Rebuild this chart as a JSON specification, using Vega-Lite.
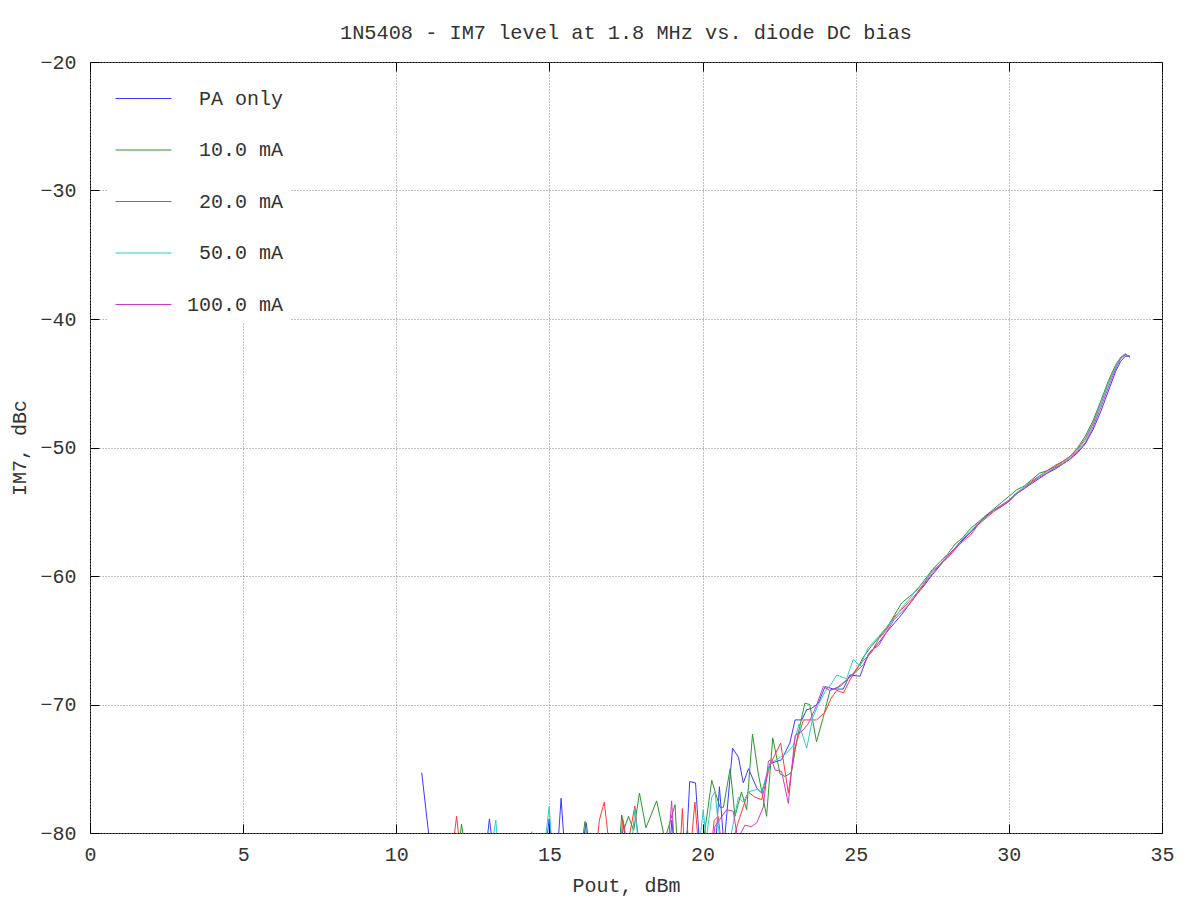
{
  "$schema": "https://vega.github.io/schema/vega-lite/v6.json",
  "width": 1072,
  "height": 771,
  "autosize": {"type": "none"},
  "padding": {"left": 90, "top": 62, "right": 38, "bottom": 67},
  "background": "white",
  "title": {"text": "1N5408 - IM7 level at 1.8 MHz vs. diode DC bias", "font": "Liberation Mono", "fontSize": 20.3, "fontWeight": "normal", "color": "#333333", "anchor": "middle", "frame": "group", "offset": 9},
  "config": {
    "view": {"stroke": "black", "strokeWidth": 1},
    "axis": {"labelFont": "Liberation Mono", "labelFontSize": 20, "labelColor": "#333333", "labelFlush": false, "titleFont": "Liberation Mono", "titleFontSize": 20, "titleFontWeight": "normal", "titleColor": "#333333", "gridColor": "#808080", "gridDash": [1, 2], "gridWidth": 1, "gridOpacity": 1, "domain": false, "tickColor": "black", "tickSize": -9, "tickWidth": 1}
  },
  "data": {"values": [
    {"series":"PA only","pout":10.83,"im7":-75.3},{"series":"PA only","pout":11.15,"im7":-82},{"series":"PA only","pout":12.9,"im7":-82},{"series":"PA only","pout":13.04,"im7":-78.9},{"series":"PA only","pout":13.2,"im7":-82},{"series":"PA only","pout":14.85,"im7":-82},{"series":"PA only","pout":14.99,"im7":-78.9},{"series":"PA only","pout":15.12,"im7":-82},{"series":"PA only","pout":15.25,"im7":-82},{"series":"PA only","pout":15.38,"im7":-77.3},{"series":"PA only","pout":15.52,"im7":-82},{"series":"PA only","pout":16.0,"im7":-82},{"series":"PA only","pout":16.2,"im7":-79.2},{"series":"PA only","pout":16.35,"im7":-82},{"series":"PA only","pout":17.3,"im7":-82},{"series":"PA only","pout":17.42,"im7":-79.3},{"series":"PA only","pout":17.55,"im7":-82},{"series":"PA only","pout":18.9,"im7":-82},{"series":"PA only","pout":19.0,"im7":-79.0},{"series":"PA only","pout":19.1,"im7":-82},{"series":"PA only","pout":19.45,"im7":-82},{"series":"PA only","pout":19.58,"im7":-76.0},{"series":"PA only","pout":19.77,"im7":-76.1},{"series":"PA only","pout":19.93,"im7":-82},{"series":"PA only","pout":20.4,"im7":-82},{"series":"PA only","pout":20.55,"im7":-76.4},{"series":"PA only","pout":20.7,"im7":-81},{"series":"PA only","pout":20.98,"im7":-73.4},{"series":"PA only","pout":21.17,"im7":-74.1},{"series":"PA only","pout":21.33,"im7":-76.1},{"series":"PA only","pout":21.5,"im7":-75.0},{"series":"PA only","pout":21.77,"im7":-76.5},{"series":"PA only","pout":21.93,"im7":-76.9},{"series":"PA only","pout":22.2,"im7":-74.6},{"series":"PA only","pout":22.58,"im7":-74.3},{"series":"PA only","pout":22.85,"im7":-73.0},{"series":"PA only","pout":23.02,"im7":-71.2},{"series":"PA only","pout":23.24,"im7":-71.2},{"series":"PA only","pout":23.4,"im7":-70.4},{"series":"PA only","pout":23.56,"im7":-70.3},{"series":"PA only","pout":23.78,"im7":-69.9},{"series":"PA only","pout":24.0,"im7":-68.6},{"series":"PA only","pout":24.27,"im7":-68.8},{"series":"PA only","pout":24.59,"im7":-68.8},{"series":"PA only","pout":24.81,"im7":-67.7},{"series":"PA only","pout":25.14,"im7":-67.8},{"series":"PA only","pout":25.41,"im7":-66.1},{"series":"PA only","pout":25.75,"im7":-65.2},{"series":"PA only","pout":26.0,"im7":-64.4},{"series":"PA only","pout":26.25,"im7":-63.7},{"series":"PA only","pout":26.5,"im7":-63.0},{"series":"PA only","pout":26.75,"im7":-62.2},{"series":"PA only","pout":27.0,"im7":-61.4},{"series":"PA only","pout":27.25,"im7":-60.7},{"series":"PA only","pout":27.5,"im7":-59.9},{"series":"PA only","pout":27.75,"im7":-59.2},{"series":"PA only","pout":28.0,"im7":-58.5},{"series":"PA only","pout":28.25,"im7":-57.9},{"series":"PA only","pout":28.5,"im7":-57.2},{"series":"PA only","pout":28.75,"im7":-56.6},{"series":"PA only","pout":29.0,"im7":-56.0},{"series":"PA only","pout":29.25,"im7":-55.3},{"series":"PA only","pout":29.5,"im7":-54.9},{"series":"PA only","pout":29.75,"im7":-54.6},{"series":"PA only","pout":30.0,"im7":-54.2},{"series":"PA only","pout":30.25,"im7":-53.6},{"series":"PA only","pout":30.5,"im7":-53.2},{"series":"PA only","pout":30.75,"im7":-52.8},{"series":"PA only","pout":31.0,"im7":-52.4},{"series":"PA only","pout":31.25,"im7":-52.0},{"series":"PA only","pout":31.5,"im7":-51.7},{"series":"PA only","pout":31.75,"im7":-51.3},{"series":"PA only","pout":32.0,"im7":-50.9},{"series":"PA only","pout":32.25,"im7":-50.4},{"series":"PA only","pout":32.5,"im7":-49.7},{"series":"PA only","pout":32.75,"im7":-48.6},{"series":"PA only","pout":33.0,"im7":-47.2},{"series":"PA only","pout":33.25,"im7":-45.6},{"series":"PA only","pout":33.5,"im7":-44.0},{"series":"PA only","pout":33.65,"im7":-43.3},{"series":"PA only","pout":33.8,"im7":-42.9},{"series":"PA only","pout":33.95,"im7":-42.9},

    {"series":"10.0 mA","pout":12.0,"im7":-82},{"series":"10.0 mA","pout":12.13,"im7":-79.3},{"series":"10.0 mA","pout":12.3,"im7":-82},{"series":"10.0 mA","pout":16.0,"im7":-82},{"series":"10.0 mA","pout":16.16,"im7":-79.1},{"series":"10.0 mA","pout":16.3,"im7":-82},{"series":"10.0 mA","pout":17.25,"im7":-82},{"series":"10.0 mA","pout":17.36,"im7":-78.6},{"series":"10.0 mA","pout":17.45,"im7":-79.6},{"series":"10.0 mA","pout":17.58,"im7":-78.7},{"series":"10.0 mA","pout":17.75,"im7":-79.8},{"series":"10.0 mA","pout":17.94,"im7":-76.9},{"series":"10.0 mA","pout":18.15,"im7":-79.6},{"series":"10.0 mA","pout":18.5,"im7":-77.5},{"series":"10.0 mA","pout":18.77,"im7":-80.5},{"series":"10.0 mA","pout":19.1,"im7":-77.8},{"series":"10.0 mA","pout":19.2,"im7":-82},{"series":"10.0 mA","pout":19.51,"im7":-79.8},{"series":"10.0 mA","pout":19.6,"im7":-82},{"series":"10.0 mA","pout":19.95,"im7":-82},{"series":"10.0 mA","pout":20.3,"im7":-75.9},{"series":"10.0 mA","pout":20.4,"im7":-76.7},{"series":"10.0 mA","pout":20.57,"im7":-78.0},{"series":"10.0 mA","pout":20.68,"im7":-78.0},{"series":"10.0 mA","pout":20.9,"im7":-75.0},{"series":"10.0 mA","pout":21.06,"im7":-78.7},{"series":"10.0 mA","pout":21.27,"im7":-76.8},{"series":"10.0 mA","pout":21.44,"im7":-78.2},{"series":"10.0 mA","pout":21.63,"im7":-72.3},{"series":"10.0 mA","pout":21.82,"im7":-75.4},{"series":"10.0 mA","pout":22.09,"im7":-78.7},{"series":"10.0 mA","pout":22.29,"im7":-72.6},{"series":"10.0 mA","pout":22.53,"im7":-75.4},{"series":"10.0 mA","pout":22.69,"im7":-75.6},{"series":"10.0 mA","pout":22.9,"im7":-75.3},{"series":"10.0 mA","pout":23.1,"im7":-72.5},{"series":"10.0 mA","pout":23.34,"im7":-69.9},{"series":"10.0 mA","pout":23.5,"im7":-70.0},{"series":"10.0 mA","pout":23.72,"im7":-72.9},{"series":"10.0 mA","pout":23.94,"im7":-71.0},{"series":"10.0 mA","pout":24.16,"im7":-68.9},{"series":"10.0 mA","pout":24.49,"im7":-68.6},{"series":"10.0 mA","pout":24.75,"im7":-68.0},{"series":"10.0 mA","pout":25.03,"im7":-67.3},{"series":"10.0 mA","pout":25.25,"im7":-66.3},{"series":"10.0 mA","pout":25.5,"im7":-65.5},{"series":"10.0 mA","pout":25.75,"im7":-64.8},{"series":"10.0 mA","pout":26.0,"im7":-64.1},{"series":"10.0 mA","pout":26.25,"im7":-63.1},{"series":"10.0 mA","pout":26.5,"im7":-62.1},{"series":"10.0 mA","pout":26.75,"im7":-61.6},{"series":"10.0 mA","pout":27.0,"im7":-61.1},{"series":"10.0 mA","pout":27.25,"im7":-60.3},{"series":"10.0 mA","pout":27.5,"im7":-59.5},{"series":"10.0 mA","pout":27.75,"im7":-58.9},{"series":"10.0 mA","pout":28.0,"im7":-58.3},{"series":"10.0 mA","pout":28.25,"im7":-57.5},{"series":"10.0 mA","pout":28.5,"im7":-57.0},{"series":"10.0 mA","pout":28.75,"im7":-56.3},{"series":"10.0 mA","pout":29.0,"im7":-55.8},{"series":"10.0 mA","pout":29.25,"im7":-55.3},{"series":"10.0 mA","pout":29.5,"im7":-54.8},{"series":"10.0 mA","pout":29.75,"im7":-54.3},{"series":"10.0 mA","pout":30.0,"im7":-53.8},{"series":"10.0 mA","pout":30.25,"im7":-53.3},{"series":"10.0 mA","pout":30.5,"im7":-53.0},{"series":"10.0 mA","pout":30.75,"im7":-52.5},{"series":"10.0 mA","pout":31.0,"im7":-52.0},{"series":"10.0 mA","pout":31.25,"im7":-51.8},{"series":"10.0 mA","pout":31.5,"im7":-51.5},{"series":"10.0 mA","pout":31.75,"im7":-51.1},{"series":"10.0 mA","pout":32.0,"im7":-50.7},{"series":"10.0 mA","pout":32.25,"im7":-50.0},{"series":"10.0 mA","pout":32.5,"im7":-49.1},{"series":"10.0 mA","pout":32.75,"im7":-47.9},{"series":"10.0 mA","pout":33.0,"im7":-46.4},{"series":"10.0 mA","pout":33.25,"im7":-44.8},{"series":"10.0 mA","pout":33.5,"im7":-43.5},{"series":"10.0 mA","pout":33.65,"im7":-43.0},{"series":"10.0 mA","pout":33.8,"im7":-42.7},{"series":"10.0 mA","pout":33.95,"im7":-43.0},

    {"series":"20.0 mA","pout":11.8,"im7":-82},{"series":"20.0 mA","pout":11.97,"im7":-78.7},{"series":"20.0 mA","pout":12.12,"im7":-82},{"series":"20.0 mA","pout":16.5,"im7":-82},{"series":"20.0 mA","pout":16.63,"im7":-79.0},{"series":"20.0 mA","pout":16.79,"im7":-77.6},{"series":"20.0 mA","pout":17.0,"im7":-82},{"series":"20.0 mA","pout":17.3,"im7":-82},{"series":"20.0 mA","pout":17.39,"im7":-78.9},{"series":"20.0 mA","pout":17.55,"im7":-81},{"series":"20.0 mA","pout":17.79,"im7":-77.9},{"series":"20.0 mA","pout":17.95,"im7":-81.5},{"series":"20.0 mA","pout":19.25,"im7":-82},{"series":"20.0 mA","pout":19.34,"im7":-78.1},{"series":"20.0 mA","pout":19.42,"im7":-82},{"series":"20.0 mA","pout":19.62,"im7":-81},{"series":"20.0 mA","pout":19.75,"im7":-77.6},{"series":"20.0 mA","pout":19.9,"im7":-82},{"series":"20.0 mA","pout":20.25,"im7":-82},{"series":"20.0 mA","pout":20.38,"im7":-79.0},{"series":"20.0 mA","pout":20.51,"im7":-78.7},{"series":"20.0 mA","pout":20.62,"im7":-81},{"series":"20.0 mA","pout":20.95,"im7":-81},{"series":"20.0 mA","pout":21.17,"im7":-79.1},{"series":"20.0 mA","pout":21.49,"im7":-76.8},{"series":"20.0 mA","pout":21.7,"im7":-77.2},{"series":"20.0 mA","pout":21.93,"im7":-77.4},{"series":"20.0 mA","pout":22.2,"im7":-74.7},{"series":"20.0 mA","pout":22.55,"im7":-73.0},{"series":"20.0 mA","pout":22.8,"im7":-76.9},{"series":"20.0 mA","pout":23.0,"im7":-73.5},{"series":"20.0 mA","pout":23.29,"im7":-71.2},{"series":"20.0 mA","pout":23.5,"im7":-71.2},{"series":"20.0 mA","pout":23.72,"im7":-71.2},{"series":"20.0 mA","pout":24.0,"im7":-70.6},{"series":"20.0 mA","pout":24.2,"im7":-69.5},{"series":"20.0 mA","pout":24.38,"im7":-68.9},{"series":"20.0 mA","pout":24.6,"im7":-69.1},{"series":"20.0 mA","pout":24.81,"im7":-68.1},{"series":"20.0 mA","pout":25.03,"im7":-67.2},{"series":"20.0 mA","pout":25.25,"im7":-66.6},{"series":"20.0 mA","pout":25.5,"im7":-66.0},{"series":"20.0 mA","pout":25.75,"im7":-64.9},{"series":"20.0 mA","pout":26.0,"im7":-64.2},{"series":"20.0 mA","pout":26.25,"im7":-63.2},{"series":"20.0 mA","pout":26.5,"im7":-62.6},{"series":"20.0 mA","pout":26.75,"im7":-62.0},{"series":"20.0 mA","pout":27.0,"im7":-61.3},{"series":"20.0 mA","pout":27.25,"im7":-60.5},{"series":"20.0 mA","pout":27.5,"im7":-59.6},{"series":"20.0 mA","pout":27.75,"im7":-59.1},{"series":"20.0 mA","pout":28.0,"im7":-58.6},{"series":"20.0 mA","pout":28.25,"im7":-57.9},{"series":"20.0 mA","pout":28.5,"im7":-57.3},{"series":"20.0 mA","pout":28.75,"im7":-56.8},{"series":"20.0 mA","pout":29.0,"im7":-56.0},{"series":"20.0 mA","pout":29.25,"im7":-55.5},{"series":"20.0 mA","pout":29.5,"im7":-55.0},{"series":"20.0 mA","pout":29.75,"im7":-54.6},{"series":"20.0 mA","pout":30.0,"im7":-54.2},{"series":"20.0 mA","pout":30.25,"im7":-53.6},{"series":"20.0 mA","pout":30.5,"im7":-53.1},{"series":"20.0 mA","pout":30.75,"im7":-52.6},{"series":"20.0 mA","pout":31.0,"im7":-52.2},{"series":"20.0 mA","pout":31.25,"im7":-51.8},{"series":"20.0 mA","pout":31.5,"im7":-51.4},{"series":"20.0 mA","pout":31.75,"im7":-51.1},{"series":"20.0 mA","pout":32.0,"im7":-50.7},{"series":"20.0 mA","pout":32.25,"im7":-50.1},{"series":"20.0 mA","pout":32.5,"im7":-49.3},{"series":"20.0 mA","pout":32.75,"im7":-48.1},{"series":"20.0 mA","pout":33.0,"im7":-46.6},{"series":"20.0 mA","pout":33.25,"im7":-45.0},{"series":"20.0 mA","pout":33.5,"im7":-43.6},{"series":"20.0 mA","pout":33.65,"im7":-43.0},{"series":"20.0 mA","pout":33.8,"im7":-42.8},{"series":"20.0 mA","pout":33.95,"im7":-42.9},

    {"series":"50.0 mA","pout":13.05,"im7":-82},{"series":"50.0 mA","pout":13.25,"im7":-79.0},{"series":"50.0 mA","pout":13.35,"im7":-82},{"series":"50.0 mA","pout":14.35,"im7":-82},{"series":"50.0 mA","pout":14.42,"im7":-79.9},{"series":"50.0 mA","pout":14.5,"im7":-82},{"series":"50.0 mA","pout":14.8,"im7":-82},{"series":"50.0 mA","pout":14.99,"im7":-77.95},{"series":"50.0 mA","pout":15.12,"im7":-82},{"series":"50.0 mA","pout":17.65,"im7":-82},{"series":"50.0 mA","pout":17.79,"im7":-78.1},{"series":"50.0 mA","pout":17.95,"im7":-82},{"series":"50.0 mA","pout":19.85,"im7":-82},{"series":"50.0 mA","pout":20.02,"im7":-78.2},{"series":"50.0 mA","pout":20.12,"im7":-80.5},{"series":"50.0 mA","pout":20.3,"im7":-77.2},{"series":"50.0 mA","pout":20.41,"im7":-76.8},{"series":"50.0 mA","pout":20.58,"im7":-81},{"series":"50.0 mA","pout":20.9,"im7":-80.5},{"series":"50.0 mA","pout":21.17,"im7":-77.2},{"series":"50.0 mA","pout":21.33,"im7":-77.6},{"series":"50.0 mA","pout":21.5,"im7":-76.8},{"series":"50.0 mA","pout":21.77,"im7":-76.6},{"series":"50.0 mA","pout":21.93,"im7":-76.8},{"series":"50.0 mA","pout":22.2,"im7":-74.6},{"series":"50.0 mA","pout":22.47,"im7":-74.2},{"series":"50.0 mA","pout":22.74,"im7":-73.8},{"series":"50.0 mA","pout":22.96,"im7":-73.2},{"series":"50.0 mA","pout":23.15,"im7":-71.5},{"series":"50.0 mA","pout":23.4,"im7":-73.4},{"series":"50.0 mA","pout":23.6,"im7":-71.0},{"series":"50.0 mA","pout":23.78,"im7":-70.0},{"series":"50.0 mA","pout":24.0,"im7":-69.0},{"series":"50.0 mA","pout":24.2,"im7":-68.4},{"series":"50.0 mA","pout":24.38,"im7":-67.7},{"series":"50.0 mA","pout":24.7,"im7":-68.0},{"series":"50.0 mA","pout":24.92,"im7":-66.5},{"series":"50.0 mA","pout":25.15,"im7":-67.0},{"series":"50.0 mA","pout":25.4,"im7":-65.6},{"series":"50.0 mA","pout":25.75,"im7":-64.7},{"series":"50.0 mA","pout":26.0,"im7":-64.0},{"series":"50.0 mA","pout":26.25,"im7":-63.3},{"series":"50.0 mA","pout":26.5,"im7":-62.5},{"series":"50.0 mA","pout":26.75,"im7":-61.8},{"series":"50.0 mA","pout":27.0,"im7":-61.0},{"series":"50.0 mA","pout":27.25,"im7":-60.4},{"series":"50.0 mA","pout":27.5,"im7":-59.6},{"series":"50.0 mA","pout":27.75,"im7":-59.1},{"series":"50.0 mA","pout":28.0,"im7":-58.5},{"series":"50.0 mA","pout":28.25,"im7":-57.8},{"series":"50.0 mA","pout":28.5,"im7":-57.1},{"series":"50.0 mA","pout":28.75,"im7":-56.5},{"series":"50.0 mA","pout":29.0,"im7":-55.9},{"series":"50.0 mA","pout":29.25,"im7":-55.4},{"series":"50.0 mA","pout":29.5,"im7":-54.9},{"series":"50.0 mA","pout":29.75,"im7":-54.5},{"series":"50.0 mA","pout":30.0,"im7":-54.1},{"series":"50.0 mA","pout":30.25,"im7":-53.5},{"series":"50.0 mA","pout":30.5,"im7":-53.1},{"series":"50.0 mA","pout":30.75,"im7":-52.7},{"series":"50.0 mA","pout":31.0,"im7":-52.2},{"series":"50.0 mA","pout":31.25,"im7":-51.9},{"series":"50.0 mA","pout":31.5,"im7":-51.6},{"series":"50.0 mA","pout":31.75,"im7":-51.2},{"series":"50.0 mA","pout":32.0,"im7":-50.8},{"series":"50.0 mA","pout":32.25,"im7":-50.2},{"series":"50.0 mA","pout":32.5,"im7":-49.4},{"series":"50.0 mA","pout":32.75,"im7":-48.2},{"series":"50.0 mA","pout":33.0,"im7":-46.6},{"series":"50.0 mA","pout":33.25,"im7":-45.0},{"series":"50.0 mA","pout":33.5,"im7":-43.6},{"series":"50.0 mA","pout":33.65,"im7":-43.0},{"series":"50.0 mA","pout":33.8,"im7":-42.8},{"series":"50.0 mA","pout":33.95,"im7":-42.9},

    {"series":"100.0 mA","pout":18.85,"im7":-82},{"series":"100.0 mA","pout":18.99,"im7":-77.5},{"series":"100.0 mA","pout":19.1,"im7":-82},{"series":"100.0 mA","pout":20.3,"im7":-82},{"series":"100.0 mA","pout":20.4,"im7":-79.5},{"series":"100.0 mA","pout":20.78,"im7":-78.2},{"series":"100.0 mA","pout":21.0,"im7":-78.3},{"series":"100.0 mA","pout":21.15,"im7":-80.5},{"series":"100.0 mA","pout":21.38,"im7":-79.4},{"series":"100.0 mA","pout":21.6,"im7":-79.5},{"series":"100.0 mA","pout":21.77,"im7":-79.2},{"series":"100.0 mA","pout":21.98,"im7":-78.0},{"series":"100.0 mA","pout":22.15,"im7":-74.4},{"series":"100.0 mA","pout":22.25,"im7":-74.3},{"series":"100.0 mA","pout":22.37,"im7":-75.1},{"series":"100.0 mA","pout":22.58,"im7":-75.2},{"series":"100.0 mA","pout":22.8,"im7":-77.7},{"series":"100.0 mA","pout":23.02,"im7":-72.4},{"series":"100.0 mA","pout":23.24,"im7":-72.1},{"series":"100.0 mA","pout":23.45,"im7":-71.5},{"series":"100.0 mA","pout":23.7,"im7":-70.2},{"series":"100.0 mA","pout":23.94,"im7":-68.6},{"series":"100.0 mA","pout":24.15,"im7":-68.9},{"series":"100.0 mA","pout":24.38,"im7":-68.7},{"series":"100.0 mA","pout":24.7,"im7":-68.1},{"series":"100.0 mA","pout":25.03,"im7":-67.4},{"series":"100.0 mA","pout":25.25,"im7":-66.9},{"series":"100.0 mA","pout":25.5,"im7":-65.8},{"series":"100.0 mA","pout":25.75,"im7":-65.4},{"series":"100.0 mA","pout":26.0,"im7":-64.4},{"series":"100.0 mA","pout":26.25,"im7":-63.4},{"series":"100.0 mA","pout":26.5,"im7":-62.8},{"series":"100.0 mA","pout":26.75,"im7":-62.2},{"series":"100.0 mA","pout":27.0,"im7":-61.4},{"series":"100.0 mA","pout":27.25,"im7":-60.6},{"series":"100.0 mA","pout":27.5,"im7":-59.8},{"series":"100.0 mA","pout":27.75,"im7":-59.1},{"series":"100.0 mA","pout":28.0,"im7":-58.4},{"series":"100.0 mA","pout":28.25,"im7":-57.8},{"series":"100.0 mA","pout":28.5,"im7":-57.1},{"series":"100.0 mA","pout":28.75,"im7":-56.6},{"series":"100.0 mA","pout":29.0,"im7":-55.9},{"series":"100.0 mA","pout":29.25,"im7":-55.4},{"series":"100.0 mA","pout":29.5,"im7":-54.9},{"series":"100.0 mA","pout":29.75,"im7":-54.5},{"series":"100.0 mA","pout":30.0,"im7":-54.1},{"series":"100.0 mA","pout":30.25,"im7":-53.6},{"series":"100.0 mA","pout":30.5,"im7":-53.2},{"series":"100.0 mA","pout":30.75,"im7":-52.7},{"series":"100.0 mA","pout":31.0,"im7":-52.3},{"series":"100.0 mA","pout":31.25,"im7":-52.0},{"series":"100.0 mA","pout":31.5,"im7":-51.6},{"series":"100.0 mA","pout":31.75,"im7":-51.3},{"series":"100.0 mA","pout":32.0,"im7":-50.9},{"series":"100.0 mA","pout":32.25,"im7":-50.3},{"series":"100.0 mA","pout":32.5,"im7":-49.6},{"series":"100.0 mA","pout":32.75,"im7":-48.4},{"series":"100.0 mA","pout":33.0,"im7":-46.9},{"series":"100.0 mA","pout":33.25,"im7":-45.3},{"series":"100.0 mA","pout":33.5,"im7":-43.8},{"series":"100.0 mA","pout":33.65,"im7":-43.1},{"series":"100.0 mA","pout":33.8,"im7":-42.75},{"series":"100.0 mA","pout":33.95,"im7":-42.9}
  ]},
  "layer": [
    {
      "mark": {"type": "line", "strokeWidth": 1, "clip": true},
      "encoding": {
        "x": {"field": "pout", "type": "quantitative", "scale": {"domain": [0, 35], "nice": false, "zero": false},
              "axis": {"orient": "bottom", "values": [0, 5, 10, 15, 20, 25, 30, 35], "title": "Pout, dBm", "labelPadding": 20, "titlePadding": 11, "grid": true, "format": "d"}},
        "y": {"field": "im7", "type": "quantitative", "scale": {"domain": [-80, -20], "nice": false, "zero": false},
              "axis": {"orient": "left", "values": [-80, -70, -60, -50, -40, -30, -20], "title": "IM7, dBc", "labelPadding": 23, "titlePadding": 10, "grid": true, "format": "d"}},
        "color": {"field": "series", "type": "nominal",
                  "scale": {"domain": ["PA only", "10.0 mA", "20.0 mA", "50.0 mA", "100.0 mA"], "range": ["#3a3aff", "#2a962a", "#ff3a3a", "#2ccccc", "#cc3acc"]},
                  "legend": {"orient": "none", "legendX": 18, "legendY": 1, "padding": 7, "fillColor": "white", "strokeColor": null, "title": null,
                             "symbolType": "stroke", "symbolSize": 3136, "symbolStrokeWidth": 1, "labelFont": "Liberation Mono", "labelFontSize": 20, "labelColor": "#333333", "labelOffset": 111, "rowPadding": 12.5,
                             "labelAlign": "right"}}
      }
    },
    {
      "mark": {"type": "line", "opacity": 0},
      "encoding": {
        "x": {"field": "pout", "type": "quantitative", "axis": {"orient": "top", "values": [0, 5, 10, 15, 20, 25, 30, 35], "labels": false, "title": null, "grid": false}},
        "y": {"field": "im7", "type": "quantitative", "axis": {"orient": "right", "values": [-80, -70, -60, -50, -40, -30, -20], "labels": false, "title": null, "grid": false}}
      }
    }
  ],
  "resolve": {"axis": {"x": "independent", "y": "independent"}}
}
